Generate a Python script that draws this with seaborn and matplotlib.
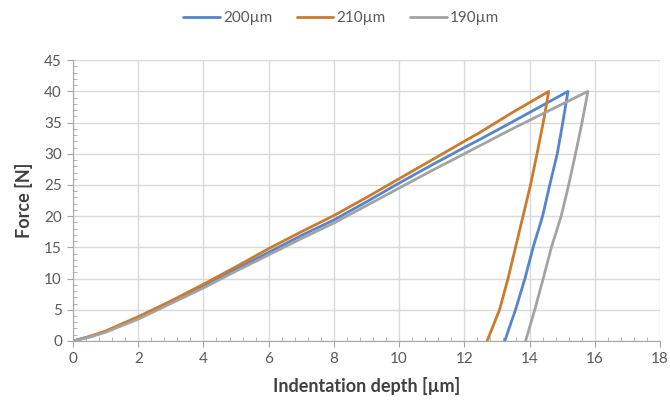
import pandas as pd
import matplotlib
matplotlib.use("Agg")
import matplotlib.pyplot as plt
from matplotlib.ticker import MultipleLocator
import seaborn as sns

# loading + unloading branches (depth in um, force in N)
depth_200 = [0, 0.5, 1, 2, 3, 4, 5, 6, 7, 8, 9, 10, 11, 12, 12.44, 13.47, 15.18,
             15.02, 14.85, 14.62, 14.40, 14.11, 13.86, 13.57, 13.24]
force_200 = [0, 0.7, 1.5, 3.7, 6.2, 8.8, 11.5, 14.2, 16.9, 19.4, 22.3, 25.3, 28.2, 31.0, 32.2, 35.1, 40,
             35, 30, 25, 20, 15, 10, 5, 0]

depth_210 = [0, 0.5, 1, 2, 3, 4, 5, 6, 7, 8, 9, 10, 11, 12, 12.44, 13.47, 14.59,
             14.42, 14.23, 14.03, 13.80, 13.57, 13.34, 13.08, 12.70]
force_210 = [0, 0.7, 1.6, 3.9, 6.4, 9.1, 11.9, 14.8, 17.5, 20.1, 23.0, 26.0, 29.0, 32.0, 33.3, 36.6, 40,
             35, 30, 25, 20, 15, 10, 5, 0]

depth_190 = [0, 0.5, 1, 2, 3, 4, 5, 6, 7, 8, 9, 10, 11, 12, 12.44, 13.47, 15.79,
             15.61, 15.41, 15.20, 14.97, 14.67, 14.42, 14.16, 13.88]
force_190 = [0, 0.6, 1.4, 3.5, 6.0, 8.5, 11.2, 13.8, 16.4, 18.9, 21.7, 24.5, 27.3, 30.0, 31.2, 34.0, 40,
             35, 30, 25, 20, 15, 10, 5, 0]

labels = ["200\u00b5m", "210\u00b5m", "190\u00b5m"]
colors = ["#5585CC", "#CC7A2C", "#A3A3A3"]

frames = []
for lab, d, f in zip(labels, [depth_200, depth_210, depth_190], [force_200, force_210, force_190]):
    frames.append(pd.DataFrame({"depth": d, "force": f, "sample": lab, "step": range(len(d))}))
df = pd.concat(frames, ignore_index=True)

sns.set_style("white")
plt.rcParams["font.family"] = ["Lato", "DejaVu Sans"]

fig = plt.figure(figsize=(6.7, 4.04), dpi=100)
ax = fig.add_axes([0.109, 0.156, 0.876, 0.695])

sns.lineplot(data=df, x="depth", y="force", hue="sample", hue_order=labels,
             palette=colors, sort=False, estimator=None, linewidth=2, ax=ax, legend=False)

ax.set_xlim(0, 18)
ax.set_ylim(0, 45)
ax.xaxis.set_major_locator(MultipleLocator(2))
ax.xaxis.set_minor_locator(MultipleLocator(0.4))
ax.yaxis.set_major_locator(MultipleLocator(5))
ax.yaxis.set_minor_locator(MultipleLocator(1))
ax.grid(True, which="major", color="#D9D9D9", linewidth=1)
ax.set_axisbelow(True)

for side in ["top", "right"]:
    ax.spines[side].set_visible(False)
for side in ["left", "bottom"]:
    ax.spines[side].set_color("#A6A6A6")

ax.tick_params(which="major", direction="out", length=4, color="#A6A6A6",
               bottom=True, left=True, labelsize=11, labelcolor="#595959", pad=4)
ax.tick_params(which="minor", direction="in", length=3, color="#A6A6A6",
               bottom=True, left=True)

ax.set_xlabel("Indentation depth [\u00b5m]", fontsize=13, fontweight="bold", color="#404040", labelpad=8)
ax.set_ylabel("Force [N]", fontsize=13, fontweight="bold", color="#404040", labelpad=8)

handles = [plt.Line2D([], [], color=c, linewidth=2) for c in colors]
fig.legend(handles, labels, loc="center", bbox_to_anchor=(0.509, 0.955), ncol=3,
           frameon=False, fontsize=11, labelcolor="#595959", handlelength=2.4,
           handletextpad=0.2, columnspacing=1.6)

fig.savefig("out.png", dpi=100)
